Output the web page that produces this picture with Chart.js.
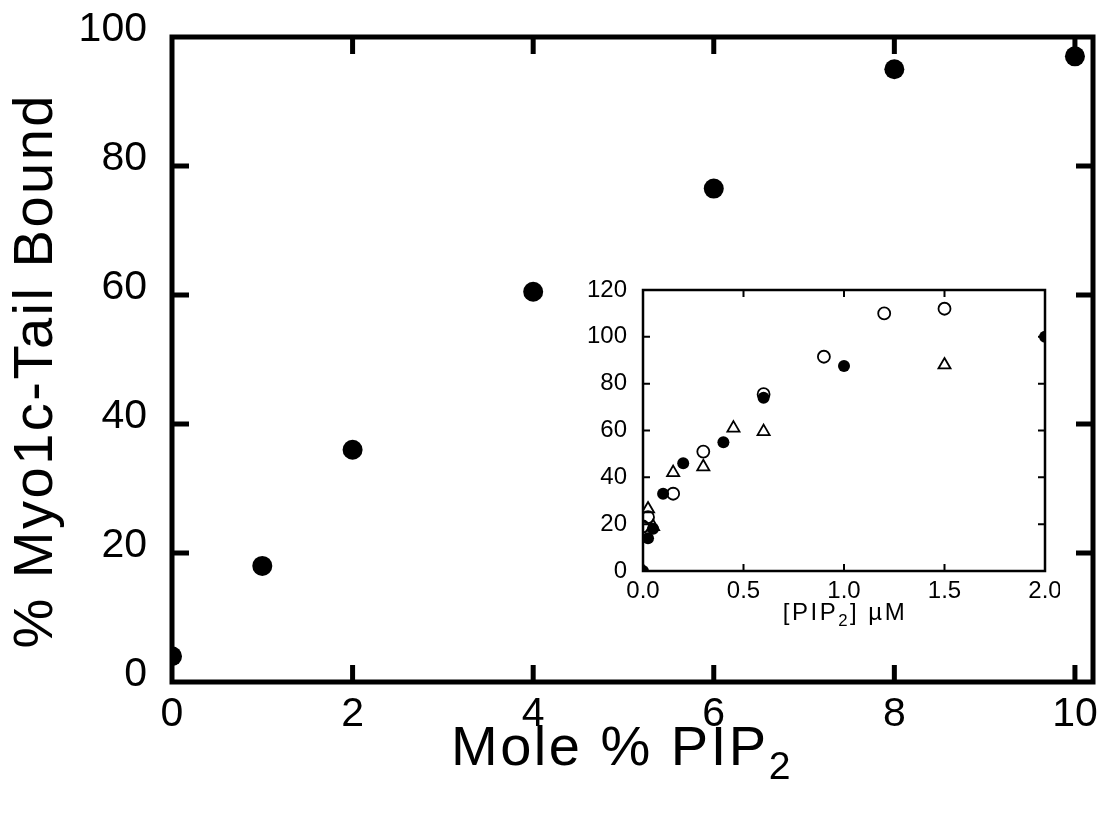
<!DOCTYPE html>
<html>
<head>
<meta charset="utf-8">
<script src="https://cdn.jsdelivr.net/npm/chart.js@4.4.1/dist/chart.umd.min.js"></script>
<style>
  html, body { margin: 0; padding: 0; background: #ffffff; }
  #wrap { position: relative; width: 1107px; height: 815px; overflow: hidden; background: #ffffff;
          font-family: "Liberation Sans", Arial, sans-serif; color: #000; }
  canvas { position: absolute; }
  #main { left: 0; top: 0; }
  #inset { left: 570px; top: 270px; }
  .title { position: absolute; white-space: nowrap; line-height: 1; color: #000; }
  .title sub { font-size: 0.7em; vertical-align: -0.35em; line-height: 0; }
</style>
</head>
<body>
<div id="wrap">
  <canvas id="main" width="1107" height="815"></canvas>
  <canvas id="inset" width="490" height="360"></canvas>
  <div class="title" id="xTitle" style="font-size:56px; letter-spacing:2.5px; left:622px; top:718px; transform:translateX(-50%);">Mole % PIP<sub>2</sub></div>
  <div class="title" id="yTitle" style="font-size:56px; letter-spacing:2.5px; text-indent:2.5px; left:-317px; top:344px; width:700px; height:56px; text-align:center; transform:rotate(-90deg);">% Myo1c-Tail Bound</div>
  <div class="title" id="insetXTitle" style="font-size:24px; letter-spacing:2.5px; left:845px; top:600px; transform:translateX(-50%);">[PIP<sub>2</sub>] µM</div>
</div>
<script>
// ---- Main chart data ----
const molePercent = [0, 1, 2, 4, 6, 8, 10];
const percentBound = [4, 18, 36, 60.5, 76.5, 95, 97];
const mainXTicks = [0, 2, 4, 6, 8, 10];
const mainYTicks = [0, 20, 40, 60, 80, 100];

// ---- Inset data ([PIP2] µM vs % bound) ----
const filledX = [0, 0.025, 0.05, 0.1, 0.2, 0.4, 0.6, 1.0, 2.0];
const filledY = [0, 14, 18, 33, 46, 55, 74, 87.5, 100];
const openCircleX = [0, 0.025, 0.15, 0.3, 0.6, 0.9, 1.2, 1.5];
const openCircleY = [19, 23, 33, 51, 75.5, 91.5, 110, 112];
const openTriangleX = [0, 0.025, 0.05, 0.15, 0.3, 0.45, 0.6, 1.5];
const openTriangleY = [0, 26.5, 19, 42, 44.5, 61, 59.5, 88];
const insetXTicks = [0, 0.5, 1.0, 1.5, 2.0];
const insetYTicks = [0, 20, 40, 60, 80, 100, 120];

const FONT = '"Liberation Sans", Arial, sans-serif';
const pts = (xs, ys) => xs.map((x, i) => ({ x: x, y: ys[i] }));

// Frame with inward ticks on all four sides
const framePlugin = {
  id: 'frame',
  beforeDatasetsDraw(chart, args, opts) {
    const { ctx, chartArea: a, scales } = chart;
    ctx.save();
    ctx.strokeStyle = '#000';
    ctx.lineWidth = opts.lineWidth;
    ctx.lineCap = 'butt';
    ctx.strokeRect(a.left, a.top, a.right - a.left, a.bottom - a.top);
    ctx.lineWidth = opts.tickWidth;
    ctx.beginPath();
    scales.x.ticks.forEach(t => {
      const px = scales.x.getPixelForValue(t.value);
      if (px <= a.left + 1 || px >= a.right - 1) return;
      ctx.moveTo(px, a.bottom); ctx.lineTo(px, a.bottom - opts.tickLen);
      ctx.moveTo(px, a.top); ctx.lineTo(px, a.top + opts.tickLen);
    });
    scales.y.ticks.forEach(t => {
      const py = scales.y.getPixelForValue(t.value);
      if (py <= a.top + 1 || py >= a.bottom - 1) return;
      ctx.moveTo(a.left, py); ctx.lineTo(a.left + opts.tickLen, py);
      ctx.moveTo(a.right, py); ctx.lineTo(a.right - opts.tickLen, py);
    });
    ctx.stroke();
    ctx.restore();
  }
};

function setTicks(arr) {
  return function (scale) { scale.ticks = arr.map(v => ({ value: v })); };
}
function fitX(h) {
  return function (s) { s.height = h; s.paddingLeft = 0; s.paddingRight = 0; s.paddingTop = 0; s.paddingBottom = 0; };
}
function fitY(w) {
  return function (s) { s.width = w; s.paddingLeft = 0; s.paddingRight = 0; s.paddingTop = 0; s.paddingBottom = 0; };
}

// ---- Main chart ----
new Chart(document.getElementById('main'), {
  type: 'scatter',
  data: {
    datasets: [{
      data: pts(molePercent, percentBound),
      pointRadius: 10,
      pointHoverRadius: 10,
      pointBackgroundColor: '#000',
      pointBorderColor: '#000',
      pointBorderWidth: 0
    }]
  },
  options: {
    responsive: false,
    animation: false,
    events: [],
    layout: { padding: { left: 0, top: 37, right: 14, bottom: 0 } },
    plugins: {
      legend: { display: false },
      tooltip: { enabled: false },
      frame: { lineWidth: 5, tickWidth: 5, tickLen: 17 }
    },
    scales: {
      x: {
        type: 'linear', min: 0, max: 10.2,
        afterBuildTicks: setTicks(mainXTicks),
        afterFit: fitX(133),
        grid: { display: false, drawTicks: false },
        border: { display: false },
        ticks: { color: '#000', font: { family: FONT, size: 41 }, padding: 8, maxRotation: 0,
                 callback: v => String(v) }
      },
      y: {
        type: 'linear', min: 0, max: 100,
        afterBuildTicks: setTicks(mainYTicks),
        afterFit: fitY(172),
        grid: { display: false, drawTicks: false },
        border: { display: false },
        ticks: { color: '#000', font: { family: FONT, size: 41 }, padding: 25, labelOffset: -7,
                 callback: v => String(v) }
      }
    }
  },
  plugins: [framePlugin]
});

// ---- Inset chart ----
new Chart(document.getElementById('inset'), {
  type: 'scatter',
  data: {
    datasets: [
      {
        data: pts(filledX, filledY),
        pointStyle: 'circle', pointRadius: 6, pointHoverRadius: 6,
        pointBackgroundColor: '#000', pointBorderColor: '#000', pointBorderWidth: 0
      },
      {
        data: pts(openCircleX, openCircleY),
        pointStyle: 'circle', pointRadius: 6, pointHoverRadius: 6,
        pointBackgroundColor: 'rgba(255,255,255,0)', pointBorderColor: '#000', pointBorderWidth: 1.8
      },
      {
        data: pts(openTriangleX, openTriangleY),
        pointStyle: 'triangle', pointRadius: 7, pointHoverRadius: 7,
        pointBackgroundColor: 'rgba(255,255,255,0)', pointBorderColor: '#000', pointBorderWidth: 1.8
      }
    ]
  },
  options: {
    responsive: false,
    animation: false,
    events: [],
    layout: { padding: { left: 0, top: 20, right: 15, bottom: 0 } },
    plugins: {
      legend: { display: false },
      tooltip: { enabled: false },
      frame: { lineWidth: 2.5, tickWidth: 2, tickLen: 7 }
    },
    scales: {
      x: {
        type: 'linear', min: 0, max: 2,
        afterBuildTicks: setTicks(insetXTicks),
        afterFit: fitX(59),
        grid: { display: false, drawTicks: false },
        border: { display: false },
        ticks: { color: '#000', font: { family: FONT, size: 24 }, padding: 6, maxRotation: 0,
                 callback: v => v.toFixed(1) }
      },
      y: {
        type: 'linear', min: 0, max: 120,
        afterBuildTicks: setTicks(insetYTicks),
        afterFit: fitY(73),
        grid: { display: false, drawTicks: false },
        border: { display: false },
        ticks: { color: '#000', font: { family: FONT, size: 24 }, padding: 16,
                 callback: v => String(v) }
      }
    }
  },
  plugins: [framePlugin]
});
</script>
</body>
</html>
